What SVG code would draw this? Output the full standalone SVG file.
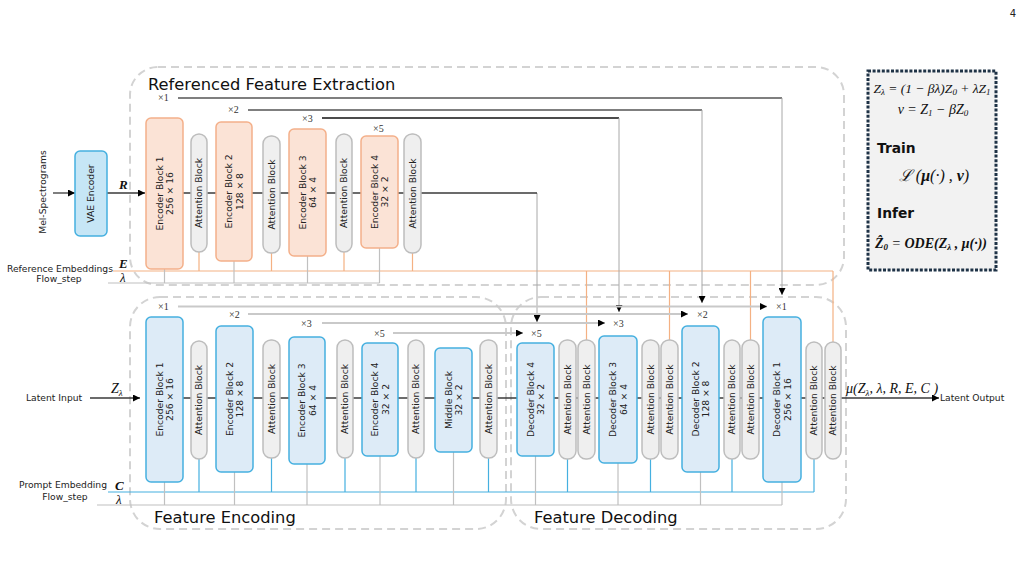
<svg xmlns="http://www.w3.org/2000/svg" width="1024" height="563" viewBox="0 0 1024 563">
<defs>
<style>
.grp{fill:none;stroke:#d3d3d3;stroke-width:2;stroke-dasharray:8,5}
.eo{fill:#fbe3d6;stroke:#f4b08a;stroke-width:1.5}
.eb{fill:#ddebf7;stroke:#45b0e0;stroke-width:1.5}
.vae{fill:#c6e6f6;stroke:#45b0e0;stroke-width:1.5}
.at{fill:#efefef;stroke:#bdbdbd;stroke-width:1.5}
.t{font-family:"DejaVu Sans","Noto Sans",sans-serif;font-size:9.2px;fill:#222;text-anchor:middle}
.lbl{font-family:"DejaVu Sans","Noto Sans",sans-serif;font-size:9.2px;fill:#222}
.ttl{font-family:"DejaVu Sans","Noto Sans",sans-serif;font-size:16.3px;fill:#111}
.x{font-family:"Liberation Serif","DejaVu Serif",serif;font-size:10px;fill:#333}
.m{font-family:"Liberation Serif","DejaVu Serif",serif;font-style:italic;fill:#111}
.mb{font-family:"Liberation Serif","DejaVu Serif",serif;font-style:italic;font-weight:bold;fill:#111}
.flow{stroke:#3a3a3a;stroke-width:1.3;fill:none}
.skipT{stroke:#555;stroke-width:1.3;fill:none}
.skipV{stroke:#a8a8a8;stroke-width:1;fill:none}
.skipB{stroke:#c9c9c9;stroke-width:1.8;fill:none}
.or{stroke:#f4b183;stroke-width:1.2;fill:none}
.bl{stroke:#45b0e0;stroke-width:1.2;fill:none}
.gr{stroke:#c0c0c0;stroke-width:1.2;fill:none}
</style>
<marker id="ah" viewBox="0 0 10 10" refX="10" refY="5" markerWidth="8" markerHeight="7" markerUnits="userSpaceOnUse" orient="auto"><path d="M0,0 L10,5 L0,10 z" fill="#000"/></marker>
</defs>
<rect width="1024" height="563" fill="#fff"/>
<text x="1016" y="17" class="lbl" style="font-size:10px;text-anchor:end" fill="#444">4</text>

<!-- group frames -->
<g id="frames">
<rect class="grp" x="130" y="67" width="714" height="218" rx="28"/>
<rect class="grp" x="130" y="297" width="376" height="232" rx="30"/>
<rect class="grp" x="511" y="297" width="335" height="232" rx="30"/>
<text class="ttl" x="148" y="90">Referenced Feature Extraction</text>
<text class="ttl" x="154" y="523">Feature Encoding</text>
<text class="ttl" x="534" y="523">Feature Decoding</text>
</g>

<!-- connectors -->
<g id="connectors">
<!-- top buses -->
<path class="or" d="M113,271 H833 M199,252 V271 M271.5,253 V271 M344,252 V271 M412.5,253 V271 M586.5,271 V340 M669.5,271 V340 M750.5,271 V340 M833,271 V342"/>
<path class="gr" d="M108,283 H379.5 M164.5,269 V283 M234,261 V283 M307.5,256 V283 M379.5,248 V283"/>
<!-- bottom buses -->
<path class="bl" d="M108,492 H814 M199,459 V492 M271.5,458 V492 M345,458 V492 M416,458 V492 M488.5,458 V492 M567.5,459 V492 M650.5,459 V492 M732,459 V492 M814,459 V492"/>
<path class="gr" d="M97,505 H782 M164.5,482 V505 M234.5,472 V505 M307,464 V505 M380,456 V505 M453.5,452 V505 M535.5,456 V505 M618,463 V505 M700.5,472 V505 M782,482 V505"/>
<!-- top skip connections -->
<path class="skipT" d="M178,98 H782"/>
<path class="skipT" d="M248,110 H702"/>
<path class="skipT" d="M322,118 H619" style="stroke:#111"/>
<path class="skipV" d="M782,98 V295" marker-end="url(#ah)"/>
<path class="skipV" d="M702,110 V303" marker-end="url(#ah)"/>
<path class="skipV" d="M619,118 V312" marker-end="url(#ah)"/>
<path class="skipV" d="M537,193 V322" marker-end="url(#ah)"/>
<!-- bottom skip connections -->
<path class="skipB" d="M178,306.5 H767" marker-end="url(#ah)"/>
<path class="skipB" d="M248,314 H688" marker-end="url(#ah)"/>
<path class="skipB" d="M322,323 H605" marker-end="url(#ah)"/>
<path class="skipB" d="M393,333 H523" marker-end="url(#ah)"/>
<!-- main flows -->
<path class="flow" d="M53,193 H75" marker-end="url(#ah)"/>
<path class="flow" d="M107,193 H145" marker-end="url(#ah)"/>
<path class="flow" d="M183,193 H537"/>
<path class="flow" d="M90,398 H140" marker-end="url(#ah)"/>
<path class="flow" d="M183,398 H841"/>
<path class="flow" d="M841,398 H939" marker-end="url(#ah)"/>
</g>

<!-- labels -->
<g id="labels">
<text class="lbl" transform="translate(46,192) rotate(-90)" text-anchor="middle">Mel-Spectrograms</text>
<text class="lbl" x="113" y="271.5" text-anchor="end">Reference Embeddings</text>
<text class="lbl" x="59" y="282" text-anchor="middle">Flow_step</text>
<text class="lbl" x="107" y="488" text-anchor="end">Prompt Embedding</text>
<text class="lbl" x="65" y="500" text-anchor="middle">Flow_step</text>
<text class="lbl" x="26" y="401">Latent Input</text>
<text class="lbl" x="940" y="401">Latent Output</text>
<text class="mb" x="119" y="189" font-size="13">R</text>
<text class="mb" x="119" y="268" font-size="13">E</text>
<text class="m" x="120" y="282" font-size="13">λ</text>
<text class="mb" x="115" y="490" font-size="13">C</text>
<text class="m" x="116" y="504" font-size="13">λ</text>
<text class="m" x="111" y="393" font-size="14">Z<tspan font-size="9" dy="3">λ</tspan></text>
<text class="m" x="846" y="393" font-size="14">μ(Z<tspan font-size="9" dy="3">λ</tspan><tspan dy="-3">, λ, R, E, C )</tspan></text>
<text class="x" x="158" y="101">×1</text>
<text class="x" x="228" y="113">×2</text>
<text class="x" x="302" y="122">×3</text>
<text class="x" x="373" y="132">×5</text>
<text class="x" x="158" y="310">×1</text>
<text class="x" x="229" y="318">×2</text>
<text class="x" x="301" y="327">×3</text>
<text class="x" x="374" y="337">×5</text>
<text class="x" x="531" y="337">×5</text>
<text class="x" x="613" y="327">×3</text>
<text class="x" x="697" y="318">×2</text>
<text class="x" x="776" y="310">×1</text>
</g>

<!-- VAE -->
<g id="vae"><rect class="vae" x="75" y="151" width="32" height="85" rx="5"/><text class="t" transform="translate(91,193.5) rotate(-90)" y="3.3">VAE Encoder</text></g>

<!-- top row -->
<g id="ref-enc1"><rect class="eo" x="146" y="118" width="37" height="151" rx="5"/><text class="t" transform="translate(164.5,193.5) rotate(-90)"><tspan x="0" y="-1.7">Encoder Block 1</tspan><tspan x="0" y="8.8">256 × 16</tspan></text></g>
<g id="ref-att1"><rect class="at" x="191" y="134" width="16" height="118" rx="8"/><text class="t" transform="translate(199,193) rotate(-90)" y="3.3">Attention Block</text></g>
<g id="ref-enc2"><rect class="eo" x="216" y="122" width="36" height="139" rx="5"/><text class="t" transform="translate(234,191.5) rotate(-90)"><tspan x="0" y="-1.7">Encoder Block 2</tspan><tspan x="0" y="8.8">128 × 8</tspan></text></g>
<g id="ref-att2"><rect class="at" x="263" y="136" width="17" height="117" rx="8"/><text class="t" transform="translate(271.5,194.5) rotate(-90)" y="3.3">Attention Block</text></g>
<g id="ref-enc3"><rect class="eo" x="289" y="129" width="37" height="127" rx="5"/><text class="t" transform="translate(307.5,192.5) rotate(-90)"><tspan x="0" y="-1.7">Encoder Block 3</tspan><tspan x="0" y="8.8">64 × 4</tspan></text></g>
<g id="ref-att3"><rect class="at" x="336" y="134" width="16" height="118" rx="8"/><text class="t" transform="translate(344,193) rotate(-90)" y="3.3">Attention Block</text></g>
<g id="ref-enc4"><rect class="eo" x="361" y="136" width="37" height="112" rx="5"/><text class="t" transform="translate(379.5,192) rotate(-90)"><tspan x="0" y="-1.7">Encoder Block 4</tspan><tspan x="0" y="8.8">32 × 2</tspan></text></g>
<g id="ref-att4"><rect class="at" x="404" y="134" width="17" height="119" rx="8"/><text class="t" transform="translate(412.5,193.5) rotate(-90)" y="3.3">Attention Block</text></g>

<!-- bottom row -->
<g id="enc1"><rect class="eb" x="146" y="317" width="37" height="165" rx="5"/><text class="t" transform="translate(164.5,399.5) rotate(-90)"><tspan x="0" y="-1.7">Encoder Block 1</tspan><tspan x="0" y="8.8">256 × 16</tspan></text></g>
<g id="att-e1"><rect class="at" x="191" y="341" width="16" height="118" rx="8"/><text class="t" transform="translate(199,400) rotate(-90)" y="3.3">Attention Block</text></g>
<g id="enc2"><rect class="eb" x="216" y="326" width="37" height="146" rx="5"/><text class="t" transform="translate(234.5,399) rotate(-90)"><tspan x="0" y="-1.7">Encoder Block 2</tspan><tspan x="0" y="8.8">128 × 8</tspan></text></g>
<g id="att-e2"><rect class="at" x="263" y="340" width="17" height="118" rx="8"/><text class="t" transform="translate(271.5,399) rotate(-90)" y="3.3">Attention Block</text></g>
<g id="enc3"><rect class="eb" x="289" y="337" width="36" height="127" rx="5"/><text class="t" transform="translate(307,400.5) rotate(-90)"><tspan x="0" y="-1.7">Encoder Block 3</tspan><tspan x="0" y="8.8">64 × 4</tspan></text></g>
<g id="att-e3"><rect class="at" x="337" y="340" width="16" height="118" rx="8"/><text class="t" transform="translate(345,399) rotate(-90)" y="3.3">Attention Block</text></g>
<g id="enc4"><rect class="eb" x="362" y="343" width="36" height="113" rx="5"/><text class="t" transform="translate(380,399.5) rotate(-90)"><tspan x="0" y="-1.7">Encoder Block 4</tspan><tspan x="0" y="8.8">32 × 2</tspan></text></g>
<g id="att-e4"><rect class="at" x="408" y="340" width="16" height="118" rx="8"/><text class="t" transform="translate(416,399) rotate(-90)" y="3.3">Attention Block</text></g>
<g id="middle"><rect class="eb" x="435" y="348" width="37" height="104" rx="5"/><text class="t" transform="translate(453.5,400) rotate(-90)"><tspan x="0" y="-1.7">Middle Block</tspan><tspan x="0" y="8.8">32 × 2</tspan></text></g>
<g id="att-m"><rect class="at" x="480" y="340" width="17" height="118" rx="8"/><text class="t" transform="translate(488.5,399) rotate(-90)" y="3.3">Attention Block</text></g>
<g id="dec4"><rect class="eb" x="517" y="343" width="37" height="113" rx="5"/><text class="t" transform="translate(535.5,399.5) rotate(-90)"><tspan x="0" y="-1.7">Decoder Block 4</tspan><tspan x="0" y="8.8">32 × 2</tspan></text></g>
<g id="att-d4a"><rect class="at" x="559" y="340" width="17" height="119" rx="8"/><text class="t" transform="translate(567.5,399.5) rotate(-90)" y="3.3">Attention Block</text></g>
<g id="att-d4b"><rect class="at" x="578" y="340" width="17" height="119" rx="8"/><text class="t" transform="translate(586.5,399.5) rotate(-90)" y="3.3">Attention Block</text></g>
<g id="dec3"><rect class="eb" x="599" y="336" width="38" height="127" rx="5"/><text class="t" transform="translate(618,399.5) rotate(-90)"><tspan x="0" y="-1.7">Decoder Block 3</tspan><tspan x="0" y="8.8">64 × 4</tspan></text></g>
<g id="att-d3a"><rect class="at" x="642" y="340" width="17" height="119" rx="8"/><text class="t" transform="translate(650.5,399.5) rotate(-90)" y="3.3">Attention Block</text></g>
<g id="att-d3b"><rect class="at" x="661" y="340" width="17" height="119" rx="8"/><text class="t" transform="translate(669.5,399.5) rotate(-90)" y="3.3">Attention Block</text></g>
<g id="dec2"><rect class="eb" x="682" y="326" width="37" height="146" rx="5"/><text class="t" transform="translate(700.5,399) rotate(-90)"><tspan x="0" y="-1.7">Decoder Block 2</tspan><tspan x="0" y="8.8">128 × 8</tspan></text></g>
<g id="att-d2a"><rect class="at" x="724" y="340" width="16" height="119" rx="8"/><text class="t" transform="translate(732,399.5) rotate(-90)" y="3.3">Attention Block</text></g>
<g id="att-d2b"><rect class="at" x="742" y="340" width="17" height="119" rx="8"/><text class="t" transform="translate(750.5,399.5) rotate(-90)" y="3.3">Attention Block</text></g>
<g id="dec1"><rect class="eb" x="763" y="317" width="38" height="165" rx="5"/><text class="t" transform="translate(782,399.5) rotate(-90)"><tspan x="0" y="-1.7">Decoder Block 1</tspan><tspan x="0" y="8.8">256 × 16</tspan></text></g>
<g id="att-d1a"><rect class="at" x="806" y="342" width="16" height="117" rx="8"/><text class="t" transform="translate(814,400.5) rotate(-90)" y="3.3">Attention Block</text></g>
<g id="att-d1b"><rect class="at" x="825" y="342" width="16" height="117" rx="8"/><text class="t" transform="translate(833,400.5) rotate(-90)" y="3.3">Attention Block</text></g>

<!-- formula box -->
<g id="formula">
<rect x="868" y="71" width="128" height="199" fill="#f2f2f2" stroke="#1e3246" stroke-width="3" stroke-dasharray="3,1.6"/>
<text class="m" x="932" y="93" font-size="13.5" text-anchor="middle">Z<tspan font-size="9" dy="2">λ</tspan><tspan dy="-2"> = (1 − βλ)Z</tspan><tspan font-size="9" dy="2">0</tspan><tspan dy="-2"> + λZ</tspan><tspan font-size="9" dy="2">1</tspan></text>
<text class="m" x="933" y="114" font-size="14" text-anchor="middle">ν = Z<tspan font-size="9" dy="2">1</tspan><tspan dy="-2">  − βZ</tspan><tspan font-size="9" dy="2">0</tspan></text>
<text x="877" y="153" font-family="'DejaVu Sans',sans-serif" font-weight="bold" font-size="13.8" fill="#111">Train</text>
<text class="m" x="934" y="181" font-size="16" text-anchor="middle">ℒ (<tspan font-weight="bold">μ</tspan>(·) , <tspan font-weight="bold">ν</tspan>)</text>
<text x="877" y="218" font-family="'DejaVu Sans',sans-serif" font-weight="bold" font-size="13.8" fill="#111">Infer</text>
<text class="mb" x="931" y="248" font-size="14" text-anchor="middle">Ẑ<tspan font-size="9" dy="2">0</tspan><tspan dy="-2" font-weight="normal"> = </tspan><tspan>ODE(Z</tspan><tspan font-size="9" dy="2">λ</tspan><tspan dy="-2"> , μ(·))</tspan></text>
</g>
</svg>
